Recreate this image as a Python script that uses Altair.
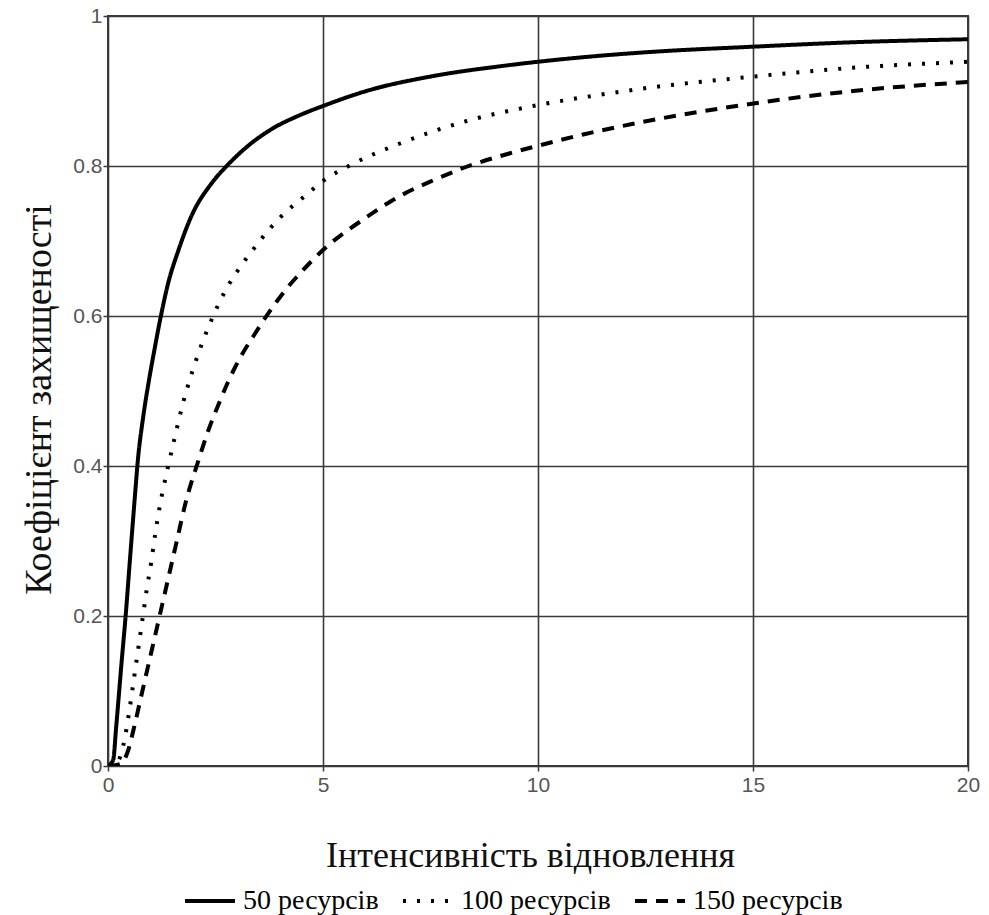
import altair as alt
import pandas as pd

series_names = ["50 ресурсів", "100 ресурсів", "150 ресурсів"]

x50 = [0, 0.12, 0.19, 0.32, 0.41, 0.51, 0.64, 0.69, 0.82, 0.94, 1.08, 1.23, 1.40, 1.64, 1.93,
       2.41, 2.76, 3.26, 3.8, 4.47, 5.0, 6.01, 7.57, 9.12, 10.0, 11.44, 12.6, 14.97, 17.33, 20.0]
y50 = [0, 0.008, 0.052, 0.141, 0.2, 0.275, 0.37, 0.405, 0.466, 0.51, 0.555, 0.6, 0.644, 0.688, 0.732,
       0.777, 0.8, 0.827, 0.849, 0.868, 0.880, 0.900, 0.920, 0.933, 0.939, 0.947, 0.952, 0.959, 0.965, 0.969]

x100 = [0, 0.2, 0.3, 0.4, 0.5, 0.6, 0.7, 0.8, 0.9, 1.0, 1.1, 1.2, 1.38, 1.52, 1.75, 1.95, 2.14,
        2.40, 2.76, 3.07, 3.42, 3.77, 4.18, 4.58, 5.0, 5.63, 6.79, 8.34, 9.89, 11.44, 12.53,
        14.97, 17.33, 20.0]
y100 = [0, 0.004, 0.015, 0.04, 0.075, 0.115, 0.155, 0.195, 0.235, 0.27, 0.31, 0.345, 0.395, 0.43,
        0.485, 0.524, 0.556, 0.594, 0.637, 0.665, 0.692, 0.717, 0.741, 0.760, 0.780, 0.801, 0.830,
        0.860, 0.880, 0.895, 0.904, 0.919, 0.931, 0.939]

x150 = [0, 0.3, 0.47, 0.6, 0.8, 1.0, 1.2, 1.4, 1.6, 1.8, 2.09, 2.33, 2.57, 2.76, 2.95, 3.15,
        3.38, 3.65, 3.92, 4.19, 4.50, 5.0, 6.02, 6.79, 7.57, 8.34, 9.35, 10.0, 11.05, 12.45,
        14.97, 17.33, 20.0]
y150 = [0, 0.003, 0.021, 0.05, 0.1, 0.15, 0.2, 0.25, 0.3, 0.35, 0.405, 0.447, 0.482, 0.508, 0.531,
        0.552, 0.573, 0.597, 0.619, 0.639, 0.659, 0.688, 0.732, 0.760, 0.781, 0.799, 0.817, 0.827,
        0.842, 0.859, 0.883, 0.900, 0.912]

x_ticks = [0, 5, 10, 15, 20]
y_ticks = [0, 0.2, 0.4, 0.6, 0.8, 1]

rows = []
for name, xs, ys in zip(series_names, [x50, x100, x150], [y50, y100, y150]):
    for i, (a, b) in enumerate(zip(xs, ys)):
        rows.append({"series": name, "x": a, "y": b, "order": i})
df = pd.DataFrame(rows)

grid_col = "#3a3a3a"

chart = alt.Chart(df).mark_line(
    color="black", strokeWidth=4, interpolate="monotone", clip=True
).encode(
    x=alt.X("x:Q", scale=alt.Scale(domain=[0, 20], nice=False),
            axis=alt.Axis(values=x_ticks, title="Інтенсивність відновлення",
                          labelPadding=3, labelFlush=False, titleX=422, titleY=100,
                          titleFontSize=36, titleBaseline="alphabetic")),
    y=alt.Y("y:Q", scale=alt.Scale(domain=[0, 1], nice=False),
            axis=alt.Axis(values=y_ticks, format="~g", title="Коефіцієнт захищеності",
                          labelPadding=1, titleX=-58, titleY=383,
                          titleFontSize=38, titleBaseline="alphabetic")),
    strokeDash=alt.StrokeDash(
        "series:N",
        scale=alt.Scale(domain=series_names, range=[[1, 0], [3, 11], [12, 9]]),
        sort=series_names,
        legend=alt.Legend(
            title=None, orient="none", direction="horizontal",
            legendX=75, legendY=858, padding=0, offset=0,
            symbolType="stroke", symbolSize=2500, symbolStrokeWidth=4,
            symbolStrokeColor="black", labelFont="Liberation Serif",
            labelFontSize=28, labelColor="black", labelOffset=6,
            columnPadding=16,
        ),
    ),
    order="order:Q",
).properties(
    width=860, height=750,
    autosize=alt.AutoSizeParams(type="none"),
    padding={"left": 108, "top": 16, "right": 21, "bottom": 149},
    background="white",
).configure_view(
    stroke=grid_col, strokeWidth=2
).configure_axis(
    grid=True, gridColor=grid_col, gridWidth=1.6, gridOpacity=1,
    domain=False, ticks=True, tickColor=grid_col, tickSize=5, tickWidth=1.5,
    labelFont="Liberation Sans", labelFontSize=21, labelColor="#555555",
    titleFont="Liberation Serif", titleFontSize=35, titleFontWeight="normal",
    titleColor="#111111",
)

chart.save("out.html", embed_options={"renderer": "svg", "actions": False})
